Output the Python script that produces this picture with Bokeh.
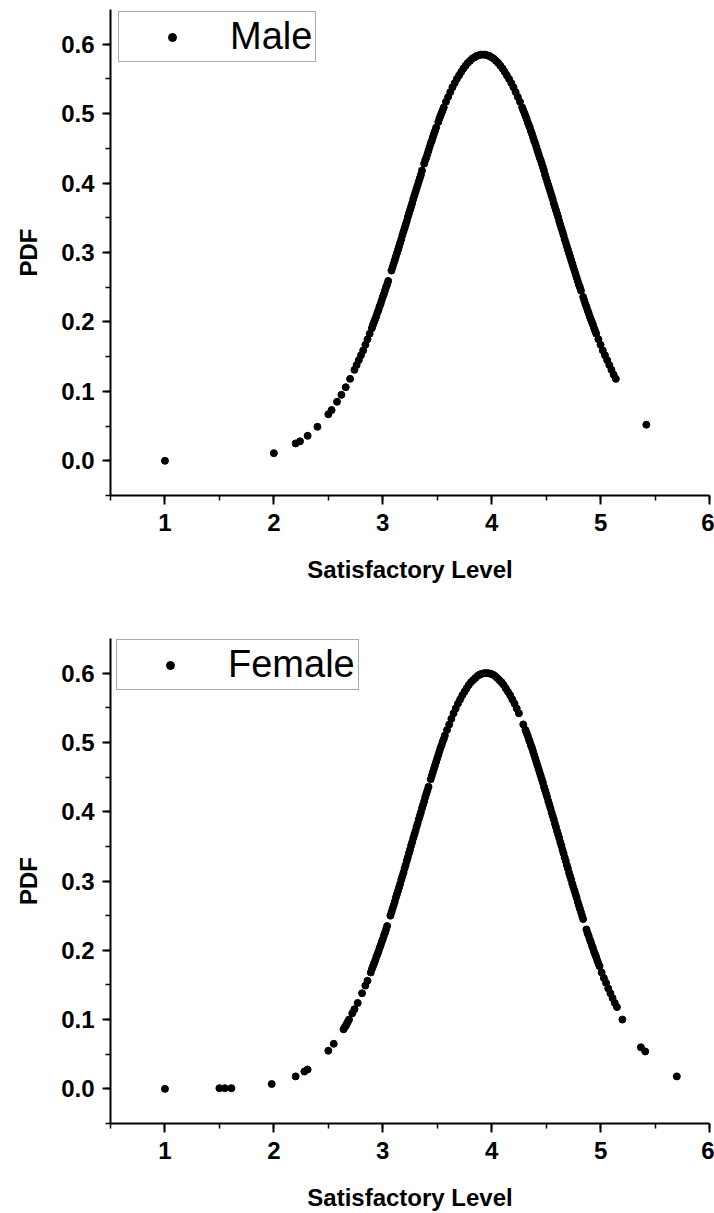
from bokeh.plotting import figure
from bokeh.layouts import column
from bokeh.models import Range1d, SingleIntervalTicker, NumeralTickFormatter, Legend, LegendItem
from bokeh.embed import file_html
from bokeh.resources import INLINE

# ---------------- data ----------------
male_x = [
    1.00, 2.00, 2.20, 2.24, 2.31, 2.40, 2.50, 2.53, 2.58, 2.62, 2.66, 2.70,
    2.74, 2.76, 2.78, 2.80, 2.82, 2.84, 2.86, 2.88,
    2.90, 2.91, 2.92, 2.93, 2.94, 2.95, 2.96, 2.97, 2.98, 2.99,
    3.00, 3.01, 3.02, 3.03, 3.04, 3.05, 3.08, 3.09,
    3.10, 3.11, 3.12, 3.13, 3.14, 3.15, 3.16, 3.17, 3.18, 3.19,
    3.20, 3.21, 3.22, 3.23, 3.24, 3.25, 3.26, 3.27, 3.28, 3.29,
    3.30, 3.31, 3.32, 3.33, 3.34, 3.35, 3.36, 3.38, 3.39,
    3.40, 3.41, 3.42, 3.43, 3.44, 3.45, 3.46, 3.47, 3.48, 3.49,
    3.51, 3.52, 3.53, 3.54, 3.55, 3.56,
    3.58, 3.60, 3.62, 3.64, 3.66, 3.68, 3.70, 3.72, 3.74, 3.76,
    3.78, 3.80, 3.82, 3.84, 3.86, 3.88, 3.90, 3.92, 3.94, 3.96,
    3.98, 4.00, 4.02, 4.04, 4.06, 4.08, 4.10, 4.12, 4.14, 4.16,
    4.18, 4.20, 4.22, 4.24, 4.26, 4.28, 4.29, 4.30, 4.31, 4.32,
    4.33, 4.34, 4.35, 4.36, 4.37, 4.38, 4.39, 4.40, 4.41, 4.42,
    4.43, 4.44, 4.45, 4.46, 4.47, 4.48, 4.49, 4.50, 4.51, 4.52,
    4.53, 4.54, 4.55, 4.56, 4.57, 4.58, 4.59, 4.60, 4.61, 4.62,
    4.63, 4.64, 4.65, 4.66, 4.67, 4.68, 4.69, 4.70, 4.71, 4.72,
    4.73, 4.74, 4.75, 4.76, 4.77, 4.78, 4.79, 4.80, 4.81, 4.82,
    4.84, 4.85, 4.86, 4.87, 4.88, 4.89, 4.90, 4.91, 4.92, 4.93,
    4.94, 4.95, 4.96, 4.98, 5.00, 5.02, 5.04, 5.06, 5.08, 5.10,
    5.12, 5.14, 5.42,
]
male_pdf = [
    0.000, 0.011, 0.025, 0.028, 0.036, 0.049, 0.067, 0.073, 0.085, 0.095, 0.106, 0.118,
    0.131, 0.138, 0.145, 0.152, 0.159, 0.167, 0.175, 0.183,
    0.191, 0.196, 0.200, 0.204, 0.208, 0.213, 0.217, 0.222, 0.226, 0.231,
    0.236, 0.240, 0.245, 0.250, 0.254, 0.259, 0.274, 0.279,
    0.284, 0.289, 0.294, 0.299, 0.304, 0.309, 0.314, 0.319, 0.325, 0.330,
    0.335, 0.340, 0.345, 0.351, 0.356, 0.361, 0.366, 0.371, 0.377, 0.382,
    0.387, 0.392, 0.397, 0.402, 0.407, 0.412, 0.418, 0.428, 0.433,
    0.437, 0.442, 0.447, 0.452, 0.457, 0.461, 0.466, 0.471, 0.475, 0.480,
    0.488, 0.493, 0.497, 0.501, 0.505, 0.509,
    0.517, 0.524, 0.531, 0.538, 0.544, 0.550, 0.555, 0.560, 0.565, 0.569,
    0.573, 0.576, 0.579, 0.581, 0.583, 0.584, 0.585, 0.585, 0.585, 0.584,
    0.583, 0.581, 0.579, 0.576, 0.573, 0.569, 0.565, 0.560, 0.555, 0.550,
    0.544, 0.538, 0.531, 0.524, 0.517, 0.509, 0.505, 0.501, 0.497, 0.493,
    0.488, 0.484, 0.480, 0.475, 0.471, 0.466, 0.461, 0.457, 0.452, 0.447,
    0.442, 0.437, 0.433, 0.428, 0.423, 0.418, 0.412, 0.407, 0.402, 0.397,
    0.392, 0.387, 0.382, 0.377, 0.371, 0.366, 0.361, 0.356, 0.351, 0.345,
    0.340, 0.335, 0.330, 0.325, 0.319, 0.314, 0.309, 0.304, 0.299, 0.294,
    0.289, 0.284, 0.279, 0.274, 0.269, 0.264, 0.259, 0.254, 0.250, 0.245,
    0.236, 0.231, 0.226, 0.222, 0.217, 0.213, 0.208, 0.204, 0.200, 0.196,
    0.191, 0.187, 0.183, 0.175, 0.167, 0.159, 0.152, 0.145, 0.138, 0.131,
    0.124, 0.118, 0.052,
]

female_x = [
    1.00, 1.50, 1.55, 1.61, 1.98, 2.20, 2.28, 2.31, 2.50, 2.55,
    2.64, 2.65, 2.66, 2.67, 2.68, 2.69, 2.72, 2.74, 2.77, 2.81,
    2.84, 2.86, 2.89, 2.90, 2.91, 2.92, 2.93, 2.94, 2.95, 2.96,
    2.97, 2.98, 2.99, 3.00, 3.01, 3.02, 3.03, 3.04, 3.07, 3.08,
    3.09, 3.10, 3.11, 3.12, 3.13, 3.14, 3.15, 3.16, 3.17, 3.18,
    3.19, 3.20, 3.21, 3.22, 3.23, 3.24, 3.25, 3.26, 3.27, 3.28,
    3.29, 3.30, 3.31, 3.32, 3.33, 3.34, 3.35, 3.36, 3.37, 3.38,
    3.39, 3.40, 3.41, 3.42, 3.44, 3.45, 3.46, 3.47, 3.48, 3.49,
    3.50, 3.51, 3.52, 3.53, 3.54, 3.55, 3.56, 3.57,
    3.59, 3.61, 3.63, 3.65, 3.67, 3.69, 3.71, 3.73, 3.75, 3.77,
    3.79, 3.81, 3.83, 3.85, 3.87, 3.89, 3.91, 3.93, 3.95, 3.97,
    3.99, 4.01, 4.03, 4.05, 4.07, 4.09, 4.11, 4.13, 4.15, 4.17,
    4.19, 4.21, 4.23, 4.25, 4.29, 4.31, 4.32, 4.33, 4.34, 4.35, 4.36,
    4.37, 4.38, 4.39, 4.40, 4.41, 4.42, 4.43, 4.44, 4.45, 4.46,
    4.47, 4.48, 4.49, 4.50, 4.51, 4.52, 4.53, 4.54, 4.55, 4.56,
    4.57, 4.58, 4.59, 4.60, 4.61, 4.62, 4.63, 4.64, 4.65, 4.66,
    4.67, 4.68, 4.69, 4.70, 4.71, 4.72, 4.73, 4.74, 4.75, 4.76,
    4.77, 4.78, 4.79, 4.80, 4.81, 4.82, 4.83, 4.84, 4.87, 4.88,
    4.89, 4.90, 4.91, 4.92, 4.93, 4.94, 4.95, 4.96, 4.97, 4.98,
    4.99, 5.01, 5.03, 5.05, 5.07, 5.09, 5.11, 5.13, 5.15, 5.20,
    5.37, 5.41, 5.70,
]
female_pdf = [
    0.000, 0.001, 0.001, 0.001, 0.007, 0.018, 0.025, 0.028, 0.055, 0.065,
    0.086, 0.089, 0.091, 0.094, 0.097, 0.100, 0.109, 0.115, 0.124, 0.138,
    0.149, 0.156, 0.168, 0.173, 0.177, 0.181, 0.185, 0.190, 0.194, 0.198,
    0.203, 0.207, 0.212, 0.216, 0.221, 0.225, 0.230, 0.235, 0.250, 0.255,
    0.260, 0.265, 0.270, 0.276, 0.281, 0.286, 0.291, 0.296, 0.302, 0.307,
    0.312, 0.318, 0.323, 0.329, 0.334, 0.340, 0.345, 0.351, 0.356, 0.362,
    0.367, 0.372, 0.378, 0.383, 0.389, 0.394, 0.399, 0.405, 0.410, 0.415,
    0.421, 0.426, 0.431, 0.436, 0.447, 0.452, 0.457, 0.462, 0.467, 0.472,
    0.477, 0.482, 0.487, 0.492, 0.496, 0.501, 0.505, 0.510,
    0.518, 0.526, 0.534, 0.542, 0.549, 0.556, 0.562, 0.568, 0.573, 0.578,
    0.583, 0.587, 0.590, 0.593, 0.596, 0.598, 0.599, 0.600, 0.600, 0.600,
    0.599, 0.598, 0.596, 0.593, 0.590, 0.587, 0.583, 0.578, 0.573, 0.568,
    0.562, 0.556, 0.549, 0.542, 0.526, 0.518, 0.514, 0.510, 0.505, 0.501, 0.496,
    0.492, 0.487, 0.482, 0.477, 0.472, 0.467, 0.462, 0.457, 0.452, 0.447,
    0.442, 0.436, 0.431, 0.426, 0.421, 0.415, 0.410, 0.405, 0.399, 0.394,
    0.389, 0.383, 0.378, 0.372, 0.367, 0.362, 0.356, 0.351, 0.345, 0.340,
    0.334, 0.329, 0.323, 0.318, 0.312, 0.307, 0.302, 0.296, 0.291, 0.286,
    0.281, 0.276, 0.270, 0.265, 0.260, 0.255, 0.250, 0.245, 0.230, 0.225,
    0.221, 0.216, 0.212, 0.207, 0.203, 0.198, 0.194, 0.190, 0.185, 0.181,
    0.177, 0.168, 0.160, 0.153, 0.145, 0.138, 0.131, 0.124, 0.118, 0.100,
    0.060, 0.054, 0.018,
]

series_names = ["Male", "Female"]
x_label = "Satisfactory Level"
y_label = "PDF"

FONT = "Liberation Sans"


def make_panel(xs, ys, name, height, border_top, border_bottom, legend_dx):
    p = figure(width=714, height=height,
               x_range=Range1d(0.5, 6.0), y_range=Range1d(-0.05, 0.65),
               output_backend="svg", toolbar_location=None,
               min_border_left=110, min_border_right=5,
               min_border_top=border_top, min_border_bottom=border_bottom)
    p.outline_line_color = None
    p.grid.visible = False
    p.background_fill_color = "white"
    p.border_fill_color = "white"

    r = p.scatter(xs, ys, size=7, marker="circle",
                  fill_color="black", line_color="black")

    for ax in (p.xaxis[0], p.yaxis[0]):
        ax.axis_line_width = 2
        ax.axis_line_color = "black"
        ax.major_tick_line_width = 2
        ax.major_tick_line_color = "black"
        ax.minor_tick_line_width = 1.5
        ax.minor_tick_line_color = "black"
        ax.major_tick_in = 0
        ax.minor_tick_in = 0
        ax.minor_tick_out = 5
        ax.major_label_text_font = FONT
        ax.major_label_text_font_style = "bold"
        ax.major_label_text_font_size = "24px"
        ax.major_label_text_color = "black"
        ax.axis_label_text_font = FONT
        ax.axis_label_text_font_style = "bold"
        ax.axis_label_text_font_size = "24px"
        ax.axis_label_text_color = "black"

    p.xaxis.ticker = SingleIntervalTicker(interval=1, num_minor_ticks=2)
    p.yaxis.ticker = SingleIntervalTicker(interval=0.1, num_minor_ticks=2)
    p.xaxis.formatter = NumeralTickFormatter(format="0")
    p.yaxis.formatter = NumeralTickFormatter(format="0.0")
    p.xaxis.major_tick_out = 9
    p.yaxis.major_tick_out = 8
    p.xaxis.major_label_standoff = 9
    p.yaxis.major_label_standoff = 8
    p.xaxis.axis_label = x_label
    p.yaxis.axis_label = y_label
    p.xaxis.axis_label_standoff = 22
    p.yaxis.axis_label_standoff = 16

    legend = Legend(items=[LegendItem(label=name, renderers=[r])],
                    location=(legend_dx, 433), margin=0, padding=3,
                    glyph_width=100, glyph_height=20, label_standoff=8,
                    label_text_font=FONT, label_text_font_size="38px",
                    label_text_color="black",
                    border_line_color="#555555", border_line_width=1,
                    background_fill_color="white", background_fill_alpha=1.0,
                    spacing=0)
    p.add_layout(legend)
    return p


p1 = make_panel(male_x, male_pdf, series_names[0], 608, 9, 113, 8)
p2 = make_panel(female_x, female_pdf, series_names[1], 605, 30, 89, 6)

layout = column(p1, p2, spacing=0)
open("out.html", "w").write(file_html(layout, INLINE))
